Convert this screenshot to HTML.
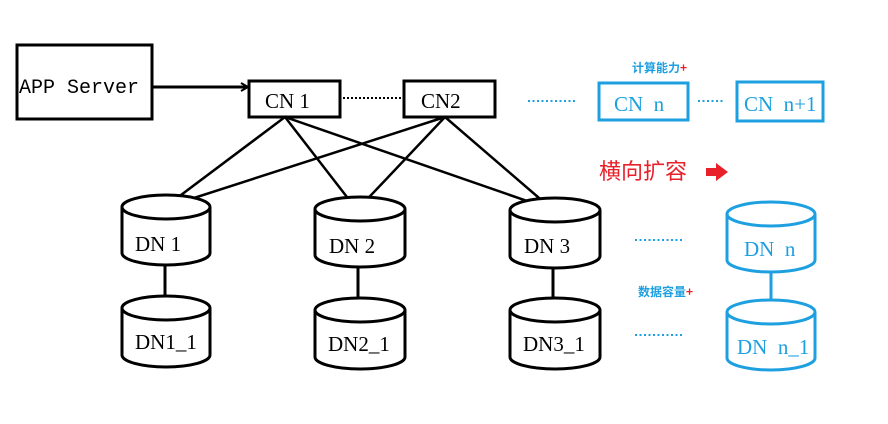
<!DOCTYPE html>
<html><head><meta charset="utf-8"><style>
html,body{margin:0;padding:0;background:#fff;width:888px;height:424px;overflow:hidden}
svg text{font-family:"Liberation Serif","Noto Serif CJK SC",serif}
</style></head><body>
<svg width="888" height="424" viewBox="0 0 888 424" xmlns="http://www.w3.org/2000/svg">
<defs>
<marker id="ah" markerWidth="10" markerHeight="10" refX="8" refY="5" orient="auto" markerUnits="userSpaceOnUse">
<path d="M1,1 L8,5 L1,9" fill="none" stroke="#000" stroke-width="2"/></marker>
</defs>
<g fill="none" stroke="#000" stroke-width="3">
<rect x="17" y="45" width="135" height="74"/>
<line x1="152" y1="87" x2="248" y2="87" marker-end="url(#ah)"/>
<rect x="249" y="81" width="91" height="36"/>
<rect x="404" y="81" width="91" height="36"/>
<line x1="343" y1="98" x2="402" y2="98" stroke-width="2" stroke-dasharray="2,2"/>
<polyline points="165,207 285,117 357,210 445,117 166,207" stroke-width="2.5"/>
<polyline points="285,117 553,210 445,117" stroke-width="2.5"/>
</g>
<g fill="#fff" stroke="#000" stroke-width="3">
<path d="M122,207 A44,12 0 0 1 210,207 L210,253 A44,12 0 0 1 122,253 Z"/>
<path d="M122,207 A44,12 0 0 0 210,207"/>
<path d="M315,209 A45,12 0 0 1 405,209 L405,255 A45,12 0 0 1 315,255 Z"/>
<path d="M315,209 A45,12 0 0 0 405,209"/>
<path d="M510,210 A45,12 0 0 1 600,210 L600,256 A45,12 0 0 1 510,256 Z"/>
<path d="M510,210 A45,12 0 0 0 600,210"/>
<line x1="165" y1="265" x2="165" y2="307"/>
<line x1="358" y1="267" x2="358" y2="309"/>
<line x1="553" y1="268" x2="553" y2="310"/>
<path d="M122,308 A44,12 0 0 1 210,308 L210,355 A44,12 0 0 1 122,355 Z"/>
<path d="M122,308 A44,12 0 0 0 210,308"/>
<path d="M315,310 A45,12 0 0 1 405,310 L405,357 A45,12 0 0 1 315,357 Z"/>
<path d="M315,310 A45,12 0 0 0 405,310"/>
<path d="M510,310 A45,12 0 0 1 600,310 L600,357 A45,12 0 0 1 510,357 Z"/>
<path d="M510,310 A45,12 0 0 0 600,310"/>
</g>
<g fill="none" stroke="#1ea0e0" stroke-width="3">
<rect x="599" y="83" width="89" height="37"/>
<rect x="737" y="82" width="86" height="39"/>
<line x1="528" y1="101" x2="576" y2="101" stroke-width="2" stroke-dasharray="2,2.5"/>
<line x1="698" y1="101" x2="724" y2="101" stroke-width="2" stroke-dasharray="2,2.5"/>
<line x1="635" y1="240" x2="683" y2="240" stroke-width="2" stroke-dasharray="2,2.5"/>
<line x1="635" y1="335" x2="683" y2="335" stroke-width="2" stroke-dasharray="2,2.5"/>
<line x1="771" y1="272" x2="771" y2="312"/>
</g>
<g fill="#fff" stroke="#1ea0e0" stroke-width="3">
<path d="M727,214 A44,12 0 0 1 815,214 L815,260 A44,12 0 0 1 727,260 Z"/>
<path d="M727,214 A44,12 0 0 0 815,214"/>
<path d="M727,312 A44,12 0 0 1 815,312 L815,358 A44,12 0 0 1 727,358 Z"/>
<path d="M727,312 A44,12 0 0 0 815,312"/>
</g>
<g font-size="21" fill="#000">
<text x="19" y="93" font-family="Liberation Mono,monospace" style="font-family:'Liberation Mono',monospace" font-size="20">APP Server</text>
<text x="265" y="108">CN 1</text>
<text x="421" y="108">CN2</text>
<text x="135" y="251">DN 1</text>
<text x="329" y="253">DN 2</text>
<text x="524" y="253">DN 3</text>
<text x="135" y="349">DN1_1</text>
<text x="328" y="351">DN2_1</text>
<text x="523" y="351">DN3_1</text>
</g>
<g font-size="21" fill="#1ea0e0">
<text x="614" y="111" xml:space="preserve">CN  n</text>
<text x="744" y="111" xml:space="preserve">CN  n+1</text>
<text x="744" y="256" xml:space="preserve">DN  n</text>
<text x="737" y="354" xml:space="preserve">DN  n_1</text>
</g>
<text x="632" y="72" font-size="12" fill="#1ea0e0" style="font-family:'Noto Sans CJK SC',sans-serif;font-weight:bold">计算能力<tspan fill="#e8202a">+</tspan></text>
<text x="638" y="296" font-size="12" fill="#1ea0e0" style="font-family:'Noto Sans CJK SC',sans-serif;font-weight:bold">数据容量<tspan fill="#e8202a">+</tspan></text>
<text x="599" y="179" font-size="22" fill="#e8202a" style="font-family:'Noto Sans CJK SC',sans-serif">横向扩容</text>
<path d="M706,168 L716,168 L716,163 L728,172 L716,181 L716,176 L706,176 Z" fill="#e8202a"/>
</svg>
</body></html>
